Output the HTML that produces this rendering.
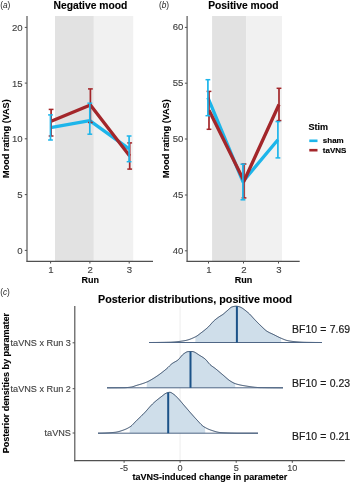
<!DOCTYPE html>
<html><head><meta charset="utf-8"><style>
html,body{margin:0;padding:0;background:#fff;}
svg{display:block;font-family:"Liberation Sans",sans-serif;will-change:transform;}
</style></head><body>
<svg width="350" height="483" viewBox="0 0 350 483">
<rect width="350" height="483" fill="#fff"/>
<rect x="55" y="16" width="38.8" height="245.3" fill="#e2e2e2"/>
<rect x="93.8" y="16" width="39.4" height="245.3" fill="#f1f1f1"/>
<path d="M50.5 127.6 L89.8 120.6 L129.1 148.8" fill="none" stroke="#1db5ea" stroke-width="3.3" stroke-linejoin="round"/>
<path d="M51.1 121.3 L90.4 105 L129.7 156" fill="none" stroke="#a3262a" stroke-width="3.3" stroke-linejoin="round"/>
<line x1="51.1" y1="109.4" x2="51.1" y2="136" stroke="#a3262a" stroke-width="1.7"/>
<line x1="48.7" y1="109.4" x2="53.5" y2="109.4" stroke="#a3262a" stroke-width="1.5"/>
<line x1="48.7" y1="136" x2="53.5" y2="136" stroke="#a3262a" stroke-width="1.5"/>
<line x1="90.4" y1="88.9" x2="90.4" y2="122.5" stroke="#a3262a" stroke-width="1.7"/>
<line x1="88" y1="88.9" x2="92.8" y2="88.9" stroke="#a3262a" stroke-width="1.5"/>
<line x1="88" y1="122.5" x2="92.8" y2="122.5" stroke="#a3262a" stroke-width="1.5"/>
<line x1="129.7" y1="142.9" x2="129.7" y2="169.1" stroke="#a3262a" stroke-width="1.7"/>
<line x1="127.3" y1="142.9" x2="132.1" y2="142.9" stroke="#a3262a" stroke-width="1.5"/>
<line x1="127.3" y1="169.1" x2="132.1" y2="169.1" stroke="#a3262a" stroke-width="1.5"/>
<line x1="50.5" y1="114.9" x2="50.5" y2="140" stroke="#1db5ea" stroke-width="1.7"/>
<line x1="48.1" y1="114.9" x2="52.9" y2="114.9" stroke="#1db5ea" stroke-width="1.5"/>
<line x1="48.1" y1="140" x2="52.9" y2="140" stroke="#1db5ea" stroke-width="1.5"/>
<line x1="89.8" y1="103.2" x2="89.8" y2="134.2" stroke="#1db5ea" stroke-width="1.7"/>
<line x1="87.4" y1="103.2" x2="92.2" y2="103.2" stroke="#1db5ea" stroke-width="1.5"/>
<line x1="87.4" y1="134.2" x2="92.2" y2="134.2" stroke="#1db5ea" stroke-width="1.5"/>
<line x1="129.1" y1="136" x2="129.1" y2="161.7" stroke="#1db5ea" stroke-width="1.7"/>
<line x1="126.7" y1="136" x2="131.5" y2="136" stroke="#1db5ea" stroke-width="1.5"/>
<line x1="126.7" y1="161.7" x2="131.5" y2="161.7" stroke="#1db5ea" stroke-width="1.5"/>
<line x1="27" y1="16" x2="27" y2="261.85" stroke="#505050" stroke-width="1.15"/>
<line x1="26.45" y1="261.3" x2="153" y2="261.3" stroke="#505050" stroke-width="1.15"/>
<line x1="24.8" y1="27.4" x2="27" y2="27.4" stroke="#505050" stroke-width="1.0"/>
<text x="22.6" y="30.8" font-size="9.6" font-weight="normal" text-anchor="end" fill="#404040" font-style="normal" stroke="#404040" stroke-width="0.12">20</text>
<line x1="24.8" y1="83.1" x2="27" y2="83.1" stroke="#505050" stroke-width="1.0"/>
<text x="22.6" y="86.5" font-size="9.6" font-weight="normal" text-anchor="end" fill="#404040" font-style="normal" stroke="#404040" stroke-width="0.12">15</text>
<line x1="24.8" y1="138.8" x2="27" y2="138.8" stroke="#505050" stroke-width="1.0"/>
<text x="22.6" y="142.2" font-size="9.6" font-weight="normal" text-anchor="end" fill="#404040" font-style="normal" stroke="#404040" stroke-width="0.12">10</text>
<line x1="24.8" y1="194.6" x2="27" y2="194.6" stroke="#505050" stroke-width="1.0"/>
<text x="22.6" y="198" font-size="9.6" font-weight="normal" text-anchor="end" fill="#404040" font-style="normal" stroke="#404040" stroke-width="0.12">5</text>
<line x1="24.8" y1="250.4" x2="27" y2="250.4" stroke="#505050" stroke-width="1.0"/>
<text x="22.6" y="253.8" font-size="9.6" font-weight="normal" text-anchor="end" fill="#404040" font-style="normal" stroke="#404040" stroke-width="0.12">0</text>
<line x1="50.6" y1="261.3" x2="50.6" y2="263.5" stroke="#505050" stroke-width="1.0"/>
<text x="50.9" y="272.9" font-size="9.6" font-weight="normal" text-anchor="middle" fill="#404040" font-style="normal" stroke="#404040" stroke-width="0.12">1</text>
<line x1="89.9" y1="261.3" x2="89.9" y2="263.5" stroke="#505050" stroke-width="1.0"/>
<text x="90.2" y="272.9" font-size="9.6" font-weight="normal" text-anchor="middle" fill="#404040" font-style="normal" stroke="#404040" stroke-width="0.12">2</text>
<line x1="129.2" y1="261.3" x2="129.2" y2="263.5" stroke="#505050" stroke-width="1.0"/>
<text x="129.5" y="272.9" font-size="9.6" font-weight="normal" text-anchor="middle" fill="#404040" font-style="normal" stroke="#404040" stroke-width="0.12">3</text>
<text x="90.2" y="283" font-size="9" font-weight="bold" text-anchor="middle" fill="#000" font-style="normal" stroke="#000" stroke-width="0.12">Run</text>
<text x="53.5" y="9" font-size="10.3" font-weight="bold" text-anchor="start" fill="#000" font-style="normal" stroke="#000" stroke-width="0.12">Negative mood</text>
<text x="9.1" y="138.6" font-size="9.1" font-weight="bold" text-anchor="middle" fill="#000" font-style="normal" transform="rotate(-90 9.1 138.6)" stroke="#000" stroke-width="0.12">Mood rating (VAS)</text>
<rect x="212.1" y="16" width="34.2" height="245.3" fill="#e2e2e2"/>
<rect x="246.3" y="16" width="35.7" height="245.3" fill="#f1f1f1"/>
<path d="M207.9 97.7 L242.9 181.6 L277.9 139.7" fill="none" stroke="#1db5ea" stroke-width="3.3" stroke-linejoin="round"/>
<path d="M209 110.3 L244 181 L279 104.5" fill="none" stroke="#a3262a" stroke-width="3.3" stroke-linejoin="round"/>
<line x1="209" y1="91.4" x2="209" y2="129.3" stroke="#a3262a" stroke-width="1.7"/>
<line x1="206.6" y1="91.4" x2="211.4" y2="91.4" stroke="#a3262a" stroke-width="1.5"/>
<line x1="206.6" y1="129.3" x2="211.4" y2="129.3" stroke="#a3262a" stroke-width="1.5"/>
<line x1="244" y1="164" x2="244" y2="197.9" stroke="#a3262a" stroke-width="1.7"/>
<line x1="241.6" y1="164" x2="246.4" y2="164" stroke="#a3262a" stroke-width="1.5"/>
<line x1="241.6" y1="197.9" x2="246.4" y2="197.9" stroke="#a3262a" stroke-width="1.5"/>
<line x1="279" y1="88.3" x2="279" y2="120.6" stroke="#a3262a" stroke-width="1.7"/>
<line x1="276.6" y1="88.3" x2="281.4" y2="88.3" stroke="#a3262a" stroke-width="1.5"/>
<line x1="276.6" y1="120.6" x2="281.4" y2="120.6" stroke="#a3262a" stroke-width="1.5"/>
<line x1="207.9" y1="79.7" x2="207.9" y2="115.7" stroke="#1db5ea" stroke-width="1.7"/>
<line x1="205.5" y1="79.7" x2="210.3" y2="79.7" stroke="#1db5ea" stroke-width="1.5"/>
<line x1="205.5" y1="115.7" x2="210.3" y2="115.7" stroke="#1db5ea" stroke-width="1.5"/>
<line x1="242.9" y1="164.2" x2="242.9" y2="199.8" stroke="#1db5ea" stroke-width="1.7"/>
<line x1="240.5" y1="164.2" x2="245.3" y2="164.2" stroke="#1db5ea" stroke-width="1.5"/>
<line x1="240.5" y1="199.8" x2="245.3" y2="199.8" stroke="#1db5ea" stroke-width="1.5"/>
<line x1="277.9" y1="121.6" x2="277.9" y2="157.9" stroke="#1db5ea" stroke-width="1.7"/>
<line x1="275.5" y1="121.6" x2="280.3" y2="121.6" stroke="#1db5ea" stroke-width="1.5"/>
<line x1="275.5" y1="157.9" x2="280.3" y2="157.9" stroke="#1db5ea" stroke-width="1.5"/>
<line x1="187.1" y1="16" x2="187.1" y2="261.85" stroke="#505050" stroke-width="1.15"/>
<line x1="186.55" y1="261.3" x2="299.7" y2="261.3" stroke="#505050" stroke-width="1.15"/>
<line x1="184.9" y1="27.4" x2="187.1" y2="27.4" stroke="#505050" stroke-width="1.0"/>
<text x="183.3" y="30.4" font-size="9.6" font-weight="normal" text-anchor="end" fill="#404040" font-style="normal" stroke="#404040" stroke-width="0.12">60</text>
<line x1="184.9" y1="83.2" x2="187.1" y2="83.2" stroke="#505050" stroke-width="1.0"/>
<text x="183.3" y="86.2" font-size="9.6" font-weight="normal" text-anchor="end" fill="#404040" font-style="normal" stroke="#404040" stroke-width="0.12">55</text>
<line x1="184.9" y1="139" x2="187.1" y2="139" stroke="#505050" stroke-width="1.0"/>
<text x="183.3" y="142" font-size="9.6" font-weight="normal" text-anchor="end" fill="#404040" font-style="normal" stroke="#404040" stroke-width="0.12">50</text>
<line x1="184.9" y1="195" x2="187.1" y2="195" stroke="#505050" stroke-width="1.0"/>
<text x="183.3" y="198" font-size="9.6" font-weight="normal" text-anchor="end" fill="#404040" font-style="normal" stroke="#404040" stroke-width="0.12">45</text>
<line x1="184.9" y1="250.8" x2="187.1" y2="250.8" stroke="#505050" stroke-width="1.0"/>
<text x="183.3" y="253.8" font-size="9.6" font-weight="normal" text-anchor="end" fill="#404040" font-style="normal" stroke="#404040" stroke-width="0.12">40</text>
<line x1="208.5" y1="261.3" x2="208.5" y2="263.5" stroke="#505050" stroke-width="1.0"/>
<text x="208.8" y="272.9" font-size="9.6" font-weight="normal" text-anchor="middle" fill="#404040" font-style="normal" stroke="#404040" stroke-width="0.12">1</text>
<line x1="243.5" y1="261.3" x2="243.5" y2="263.5" stroke="#505050" stroke-width="1.0"/>
<text x="243.8" y="272.9" font-size="9.6" font-weight="normal" text-anchor="middle" fill="#404040" font-style="normal" stroke="#404040" stroke-width="0.12">2</text>
<line x1="278.5" y1="261.3" x2="278.5" y2="263.5" stroke="#505050" stroke-width="1.0"/>
<text x="278.8" y="272.9" font-size="9.6" font-weight="normal" text-anchor="middle" fill="#404040" font-style="normal" stroke="#404040" stroke-width="0.12">3</text>
<text x="243.5" y="283" font-size="9" font-weight="bold" text-anchor="middle" fill="#000" font-style="normal" stroke="#000" stroke-width="0.12">Run</text>
<text x="208.2" y="9" font-size="10.3" font-weight="bold" text-anchor="start" fill="#000" font-style="normal" stroke="#000" stroke-width="0.12">Positive mood</text>
<text x="169" y="138.6" font-size="9.1" font-weight="bold" text-anchor="middle" fill="#000" font-style="normal" transform="rotate(-90 169 138.6)" stroke="#000" stroke-width="0.12">Mood rating (VAS)</text>
<text x="0.2" y="7.6" font-size="8.3" font-weight="normal" text-anchor="start" fill="#222" font-style="normal">(<tspan font-style="italic">a</tspan>)</text>
<text x="158.9" y="7.6" font-size="8.3" font-weight="normal" text-anchor="start" fill="#222" font-style="normal">(<tspan font-style="italic">b</tspan>)</text>
<text x="0.2" y="295.3" font-size="8.3" font-weight="normal" text-anchor="start" fill="#222" font-style="normal">(<tspan font-style="italic">c</tspan>)</text>
<text x="308.6" y="130.3" font-size="9" font-weight="bold" text-anchor="start" fill="#000" font-style="normal" stroke="#000" stroke-width="0.12">Stim</text>
<rect x="309.3" y="139.5" width="8.2" height="2.6" fill="#1db5ea"/>
<rect x="309.3" y="148.9" width="8.2" height="2.6" fill="#a3262a"/>
<text x="322.8" y="143" font-size="8.0" font-weight="bold" text-anchor="start" fill="#000" font-style="normal" stroke="#000" stroke-width="0.12">sham</text>
<text x="322.8" y="152.8" font-size="8.0" font-weight="bold" text-anchor="start" fill="#000" font-style="normal" stroke="#000" stroke-width="0.12">taVNS</text>
<line x1="180.1" y1="306" x2="180.1" y2="460.6" stroke="#ebebeb" stroke-width="0.9"/>
<path d="M195.3 342.5 L195.5 336.8 L196 336.53 L196.5 336.23 L197 335.91 L197.5 335.57 L198 335.21 L198.5 334.84 L199 334.46 L199.5 334.07 L200 333.68 L200.5 333.29 L201 332.9 L201.5 332.52 L202 332.15 L202.5 331.77 L203 331.38 L203.5 330.99 L204 330.6 L204.5 330.21 L205 329.8 L205.5 329.39 L206 328.98 L206.5 328.55 L207 328.11 L207.5 327.67 L208 327.21 L208.5 326.72 L209 326.21 L209.5 325.67 L210 325.12 L210.5 324.55 L211 323.98 L211.5 323.41 L212 322.85 L212.5 322.3 L213 321.76 L213.5 321.25 L214 320.77 L214.5 320.32 L215 319.9 L215.5 319.48 L216 319.08 L216.5 318.69 L217 318.31 L217.5 317.94 L218 317.58 L218.5 317.22 L219 316.87 L219.5 316.53 L220 316.21 L220.5 315.91 L221 315.61 L221.5 315.31 L222 315 L222.5 314.67 L223 314.3 L223.5 313.91 L224 313.49 L224.5 313.06 L225 312.62 L225.5 312.17 L226 311.73 L226.5 311.3 L227 310.88 L227.5 310.47 L228 310.02 L228.5 309.55 L229 309.08 L229.5 308.62 L230 308.18 L230.5 307.77 L231 307.41 L231.5 307.12 L232 306.89 L232.5 306.75 L233 306.63 L233.5 306.52 L234 306.42 L234.5 306.33 L235 306.26 L235.5 306.22 L236 306.2 L236.5 306.21 L237 306.26 L237.5 306.34 L238 306.43 L238.5 306.53 L239 306.65 L239.5 306.79 L240 306.97 L240.5 307.18 L241 307.42 L241.5 307.68 L242 307.98 L242.5 308.3 L243 308.63 L243.5 308.99 L244 309.36 L244.5 309.74 L245 310.14 L245.5 310.54 L246 310.95 L246.5 311.37 L247 311.78 L247.5 312.19 L248 312.6 L248.5 313.02 L249 313.48 L249.5 313.96 L250 314.46 L250.5 314.99 L251 315.52 L251.5 316.07 L252 316.63 L252.5 317.19 L253 317.75 L253.5 318.31 L254 318.85 L254.5 319.39 L255 319.9 L255.5 320.41 L256 320.93 L256.5 321.44 L257 321.95 L257.5 322.46 L258 322.97 L258.5 323.47 L259 323.98 L259.5 324.47 L260 324.97 L260.5 325.46 L261 325.94 L261.5 326.41 L262 326.88 L262.5 327.36 L263 327.85 L263.5 328.33 L264 328.81 L264.5 329.27 L265 329.72 L265.5 330.15 L266 330.56 L266.5 330.93 L267 331.26 L267.5 331.57 L268 331.86 L268.5 332.14 L269 332.4 L269.5 332.65 L270 332.89 L270.5 333.12 L271 333.35 L271.5 333.57 L272 333.8 L272.5 334.03 L273 334.26 L273.5 334.5 L274 334.75 L274.5 335 L275 335.26 L275.5 335.51 L276 335.77 L276.5 336.03 L277 336.28 L277.5 336.54 L278 336.79 L278.5 337.03 L279 337.27 L279.5 337.51 L280 337.74 L280.5 337.96 L281 338.17 L281.3 342.5 Z" fill="#cfdeea" stroke="none"/>
<path d="M149 342.5 L149.5 342.5 L150 342.5 L150.5 342.5 L151 342.5 L151.5 342.5 L152 342.49 L152.5 342.49 L153 342.49 L153.5 342.48 L154 342.48 L154.5 342.48 L155 342.47 L155.5 342.47 L156 342.46 L156.5 342.46 L157 342.45 L157.5 342.45 L158 342.44 L158.5 342.43 L159 342.43 L159.5 342.42 L160 342.41 L160.5 342.4 L161 342.4 L161.5 342.39 L162 342.38 L162.5 342.37 L163 342.36 L163.5 342.35 L164 342.34 L164.5 342.33 L165 342.32 L165.5 342.31 L166 342.3 L166.5 342.29 L167 342.27 L167.5 342.26 L168 342.25 L168.5 342.24 L169 342.23 L169.5 342.21 L170 342.2 L170.5 342.19 L171 342.17 L171.5 342.15 L172 342.12 L172.5 342.09 L173 342.06 L173.5 342.03 L174 342 L174.5 341.96 L175 341.92 L175.5 341.87 L176 341.83 L176.5 341.78 L177 341.72 L177.5 341.67 L178 341.61 L178.5 341.55 L179 341.49 L179.5 341.43 L180 341.36 L180.5 341.3 L181 341.23 L181.5 341.15 L182 341.08 L182.5 341 L183 340.93 L183.5 340.85 L184 340.77 L184.5 340.68 L185 340.6 L185.5 340.51 L186 340.41 L186.5 340.29 L187 340.17 L187.5 340.03 L188 339.89 L188.5 339.73 L189 339.57 L189.5 339.4 L190 339.22 L190.5 339.03 L191 338.83 L191.5 338.63 L192 338.42 L192.5 338.2 L193 337.98 L193.5 337.76 L194 337.52 L194.5 337.29 L195 337.05 L195.5 336.8 L196 336.53 L196.5 336.23 L197 335.91 L197.5 335.57 L198 335.21 L198.5 334.84 L199 334.46 L199.5 334.07 L200 333.68 L200.5 333.29 L201 332.9 L201.5 332.52 L202 332.15 L202.5 331.77 L203 331.38 L203.5 330.99 L204 330.6 L204.5 330.21 L205 329.8 L205.5 329.39 L206 328.98 L206.5 328.55 L207 328.11 L207.5 327.67 L208 327.21 L208.5 326.72 L209 326.21 L209.5 325.67 L210 325.12 L210.5 324.55 L211 323.98 L211.5 323.41 L212 322.85 L212.5 322.3 L213 321.76 L213.5 321.25 L214 320.77 L214.5 320.32 L215 319.9 L215.5 319.48 L216 319.08 L216.5 318.69 L217 318.31 L217.5 317.94 L218 317.58 L218.5 317.22 L219 316.87 L219.5 316.53 L220 316.21 L220.5 315.91 L221 315.61 L221.5 315.31 L222 315 L222.5 314.67 L223 314.3 L223.5 313.91 L224 313.49 L224.5 313.06 L225 312.62 L225.5 312.17 L226 311.73 L226.5 311.3 L227 310.88 L227.5 310.47 L228 310.02 L228.5 309.55 L229 309.08 L229.5 308.62 L230 308.18 L230.5 307.77 L231 307.41 L231.5 307.12 L232 306.89 L232.5 306.75 L233 306.63 L233.5 306.52 L234 306.42 L234.5 306.33 L235 306.26 L235.5 306.22 L236 306.2 L236.5 306.21 L237 306.26 L237.5 306.34 L238 306.43 L238.5 306.53 L239 306.65 L239.5 306.79 L240 306.97 L240.5 307.18 L241 307.42 L241.5 307.68 L242 307.98 L242.5 308.3 L243 308.63 L243.5 308.99 L244 309.36 L244.5 309.74 L245 310.14 L245.5 310.54 L246 310.95 L246.5 311.37 L247 311.78 L247.5 312.19 L248 312.6 L248.5 313.02 L249 313.48 L249.5 313.96 L250 314.46 L250.5 314.99 L251 315.52 L251.5 316.07 L252 316.63 L252.5 317.19 L253 317.75 L253.5 318.31 L254 318.85 L254.5 319.39 L255 319.9 L255.5 320.41 L256 320.93 L256.5 321.44 L257 321.95 L257.5 322.46 L258 322.97 L258.5 323.47 L259 323.98 L259.5 324.47 L260 324.97 L260.5 325.46 L261 325.94 L261.5 326.41 L262 326.88 L262.5 327.36 L263 327.85 L263.5 328.33 L264 328.81 L264.5 329.27 L265 329.72 L265.5 330.15 L266 330.56 L266.5 330.93 L267 331.26 L267.5 331.57 L268 331.86 L268.5 332.14 L269 332.4 L269.5 332.65 L270 332.89 L270.5 333.12 L271 333.35 L271.5 333.57 L272 333.8 L272.5 334.03 L273 334.26 L273.5 334.5 L274 334.75 L274.5 335 L275 335.26 L275.5 335.51 L276 335.77 L276.5 336.03 L277 336.28 L277.5 336.54 L278 336.79 L278.5 337.03 L279 337.27 L279.5 337.51 L280 337.74 L280.5 337.96 L281 338.17 L281.5 338.39 L282 338.61 L282.5 338.83 L283 339.05 L283.5 339.26 L284 339.47 L284.5 339.67 L285 339.86 L285.5 340.03 L286 340.2 L286.5 340.35 L287 340.48 L287.5 340.6 L288 340.7 L288.5 340.8 L289 340.89 L289.5 340.98 L290 341.06 L290.5 341.14 L291 341.21 L291.5 341.28 L292 341.35 L292.5 341.41 L293 341.47 L293.5 341.52 L294 341.57 L294.5 341.62 L295 341.66 L295.5 341.71 L296 341.75 L296.5 341.8 L297 341.84 L297.5 341.88 L298 341.92 L298.5 341.96 L299 342 L299.5 342.04 L300 342.07 L300.5 342.1 L301 342.13 L301.5 342.16 L302 342.19 L302.5 342.21 L303 342.24 L303.5 342.26 L304 342.27 L304.5 342.29 L305 342.3 L305.5 342.31 L306 342.32 L306.5 342.33 L307 342.34 L307.5 342.35 L308 342.36 L308.5 342.37 L309 342.38 L309.5 342.39 L310 342.39 L310.5 342.4 L311 342.41 L311.5 342.42 L312 342.42 L312.5 342.43 L313 342.44 L313.5 342.44 L314 342.45 L314.5 342.46 L315 342.46 L315.5 342.47 L316 342.47 L316.5 342.48 L317 342.48 L317.5 342.48 L318 342.49 L318.5 342.49 L319 342.49 L319.5 342.49 L320 342.5 L320.5 342.5 L321 342.5 L321.5 342.5 L322 342.5" fill="none" stroke="#273f5e" stroke-width="1" stroke-linejoin="round"/>
<line x1="149" y1="342.5" x2="322" y2="342.5" stroke="#4f6685" stroke-width="1"/>
<line x1="236.9" y1="342.5" x2="236.9" y2="306.25" stroke="#1b5288" stroke-width="2.0"/>
<path d="M146.6 387.8 L147 381.94 L147.5 381.71 L148 381.48 L148.5 381.23 L149 380.97 L149.5 380.7 L150 380.43 L150.5 380.15 L151 379.86 L151.5 379.57 L152 379.27 L152.5 378.96 L153 378.66 L153.5 378.35 L154 378.03 L154.5 377.72 L155 377.4 L155.5 377.08 L156 376.75 L156.5 376.42 L157 376.09 L157.5 375.75 L158 375.4 L158.5 375.05 L159 374.69 L159.5 374.33 L160 373.96 L160.5 373.59 L161 373.21 L161.5 372.83 L162 372.45 L162.5 372.06 L163 371.67 L163.5 371.27 L164 370.87 L164.5 370.47 L165 370.06 L165.5 369.65 L166 369.23 L166.5 368.82 L167 368.38 L167.5 367.91 L168 367.43 L168.5 366.93 L169 366.43 L169.5 365.93 L170 365.44 L170.5 364.96 L171 364.51 L171.5 364.07 L172 363.68 L172.5 363.31 L173 362.98 L173.5 362.67 L174 362.38 L174.5 362.1 L175 361.83 L175.5 361.55 L176 361.27 L176.5 360.97 L177 360.65 L177.5 360.3 L178 359.92 L178.5 359.47 L179 358.96 L179.5 358.4 L180 357.8 L180.5 357.19 L181 356.57 L181.5 355.96 L182 355.38 L182.5 354.85 L183 354.37 L183.5 353.97 L184 353.62 L184.5 353.27 L185 352.93 L185.5 352.61 L186 352.31 L186.5 352.05 L187 351.84 L187.5 351.69 L188 351.61 L188.5 351.58 L189 351.56 L189.5 351.54 L190 351.53 L190.5 351.52 L191 351.51 L191.5 351.5 L192 351.5 L192.5 351.53 L193 351.61 L193.5 351.74 L194 351.92 L194.5 352.14 L195 352.39 L195.5 352.66 L196 352.96 L196.5 353.28 L197 353.62 L197.5 353.96 L198 354.3 L198.5 354.64 L199 354.98 L199.5 355.3 L200 355.6 L200.5 355.89 L201 356.19 L201.5 356.49 L202 356.79 L202.5 357.11 L203 357.44 L203.5 357.78 L204 358.14 L204.5 358.52 L205 358.92 L205.5 359.36 L206 359.86 L206.5 360.41 L207 361 L207.5 361.61 L208 362.23 L208.5 362.85 L209 363.44 L209.5 364.01 L210 364.52 L210.5 364.98 L211 365.4 L211.5 365.79 L212 366.16 L212.5 366.52 L213 366.87 L213.5 367.22 L214 367.57 L214.5 367.92 L215 368.29 L215.5 368.68 L216 369.08 L216.5 369.49 L217 369.9 L217.5 370.32 L218 370.74 L218.5 371.17 L219 371.59 L219.5 372.02 L220 372.45 L220.5 372.88 L221 373.31 L221.5 373.73 L222 374.15 L222.5 374.57 L223 374.99 L223.5 375.42 L224 375.86 L224.5 376.3 L225 376.74 L225.5 377.18 L226 377.62 L226.5 378.06 L227 378.49 L227.5 378.91 L228 379.32 L228.5 379.72 L229 380.11 L229.5 380.47 L230 380.82 L230.5 381.15 L231 381.46 L231.5 381.76 L232 382.05 L232.5 382.33 L233 382.6 L233.5 382.86 L234 383.1 L234.5 383.33 L235 383.54 L235.3 387.8 Z" fill="#cfdeea" stroke="none"/>
<path d="M107 387.8 L107.5 387.8 L108 387.8 L108.5 387.8 L109 387.8 L109.5 387.8 L110 387.8 L110.5 387.8 L111 387.8 L111.5 387.79 L112 387.79 L112.5 387.79 L113 387.79 L113.5 387.79 L114 387.78 L114.5 387.78 L115 387.78 L115.5 387.78 L116 387.77 L116.5 387.77 L117 387.77 L117.5 387.76 L118 387.76 L118.5 387.76 L119 387.75 L119.5 387.75 L120 387.74 L120.5 387.74 L121 387.73 L121.5 387.73 L122 387.72 L122.5 387.72 L123 387.71 L123.5 387.71 L124 387.7 L124.5 387.69 L125 387.67 L125.5 387.65 L126 387.62 L126.5 387.59 L127 387.55 L127.5 387.51 L128 387.46 L128.5 387.41 L129 387.35 L129.5 387.3 L130 387.23 L130.5 387.17 L131 387.1 L131.5 387.02 L132 386.91 L132.5 386.77 L133 386.62 L133.5 386.46 L134 386.29 L134.5 386.11 L135 385.93 L135.5 385.76 L136 385.6 L136.5 385.45 L137 385.29 L137.5 385.14 L138 384.99 L138.5 384.85 L139 384.7 L139.5 384.55 L140 384.4 L140.5 384.25 L141 384.1 L141.5 383.94 L142 383.79 L142.5 383.62 L143 383.46 L143.5 383.29 L144 383.12 L144.5 382.94 L145 382.75 L145.5 382.56 L146 382.36 L146.5 382.16 L147 381.94 L147.5 381.71 L148 381.48 L148.5 381.23 L149 380.97 L149.5 380.7 L150 380.43 L150.5 380.15 L151 379.86 L151.5 379.57 L152 379.27 L152.5 378.96 L153 378.66 L153.5 378.35 L154 378.03 L154.5 377.72 L155 377.4 L155.5 377.08 L156 376.75 L156.5 376.42 L157 376.09 L157.5 375.75 L158 375.4 L158.5 375.05 L159 374.69 L159.5 374.33 L160 373.96 L160.5 373.59 L161 373.21 L161.5 372.83 L162 372.45 L162.5 372.06 L163 371.67 L163.5 371.27 L164 370.87 L164.5 370.47 L165 370.06 L165.5 369.65 L166 369.23 L166.5 368.82 L167 368.38 L167.5 367.91 L168 367.43 L168.5 366.93 L169 366.43 L169.5 365.93 L170 365.44 L170.5 364.96 L171 364.51 L171.5 364.07 L172 363.68 L172.5 363.31 L173 362.98 L173.5 362.67 L174 362.38 L174.5 362.1 L175 361.83 L175.5 361.55 L176 361.27 L176.5 360.97 L177 360.65 L177.5 360.3 L178 359.92 L178.5 359.47 L179 358.96 L179.5 358.4 L180 357.8 L180.5 357.19 L181 356.57 L181.5 355.96 L182 355.38 L182.5 354.85 L183 354.37 L183.5 353.97 L184 353.62 L184.5 353.27 L185 352.93 L185.5 352.61 L186 352.31 L186.5 352.05 L187 351.84 L187.5 351.69 L188 351.61 L188.5 351.58 L189 351.56 L189.5 351.54 L190 351.53 L190.5 351.52 L191 351.51 L191.5 351.5 L192 351.5 L192.5 351.53 L193 351.61 L193.5 351.74 L194 351.92 L194.5 352.14 L195 352.39 L195.5 352.66 L196 352.96 L196.5 353.28 L197 353.62 L197.5 353.96 L198 354.3 L198.5 354.64 L199 354.98 L199.5 355.3 L200 355.6 L200.5 355.89 L201 356.19 L201.5 356.49 L202 356.79 L202.5 357.11 L203 357.44 L203.5 357.78 L204 358.14 L204.5 358.52 L205 358.92 L205.5 359.36 L206 359.86 L206.5 360.41 L207 361 L207.5 361.61 L208 362.23 L208.5 362.85 L209 363.44 L209.5 364.01 L210 364.52 L210.5 364.98 L211 365.4 L211.5 365.79 L212 366.16 L212.5 366.52 L213 366.87 L213.5 367.22 L214 367.57 L214.5 367.92 L215 368.29 L215.5 368.68 L216 369.08 L216.5 369.49 L217 369.9 L217.5 370.32 L218 370.74 L218.5 371.17 L219 371.59 L219.5 372.02 L220 372.45 L220.5 372.88 L221 373.31 L221.5 373.73 L222 374.15 L222.5 374.57 L223 374.99 L223.5 375.42 L224 375.86 L224.5 376.3 L225 376.74 L225.5 377.18 L226 377.62 L226.5 378.06 L227 378.49 L227.5 378.91 L228 379.32 L228.5 379.72 L229 380.11 L229.5 380.47 L230 380.82 L230.5 381.15 L231 381.46 L231.5 381.76 L232 382.05 L232.5 382.33 L233 382.6 L233.5 382.86 L234 383.1 L234.5 383.33 L235 383.54 L235.5 383.73 L236 383.9 L236.5 384.05 L237 384.2 L237.5 384.34 L238 384.48 L238.5 384.6 L239 384.73 L239.5 384.84 L240 384.95 L240.5 385.06 L241 385.16 L241.5 385.26 L242 385.36 L242.5 385.45 L243 385.54 L243.5 385.62 L244 385.7 L244.5 385.78 L245 385.86 L245.5 385.94 L246 386.02 L246.5 386.1 L247 386.18 L247.5 386.26 L248 386.34 L248.5 386.42 L249 386.49 L249.5 386.57 L250 386.65 L250.5 386.72 L251 386.79 L251.5 386.86 L252 386.93 L252.5 387 L253 387.06 L253.5 387.12 L254 387.18 L254.5 387.24 L255 387.29 L255.5 387.34 L256 387.38 L256.5 387.42 L257 387.46 L257.5 387.5 L258 387.53 L258.5 387.55 L259 387.57 L259.5 387.59 L260 387.6 L260.5 387.61 L261 387.62 L261.5 387.62 L262 387.63 L262.5 387.64 L263 387.65 L263.5 387.66 L264 387.66 L264.5 387.67 L265 387.68 L265.5 387.68 L266 387.69 L266.5 387.7 L267 387.7 L267.5 387.71 L268 387.71 L268.5 387.72 L269 387.73 L269.5 387.73 L270 387.74 L270.5 387.74 L271 387.74 L271.5 387.75 L272 387.75 L272.5 387.76 L273 387.76 L273.5 387.77 L274 387.77 L274.5 387.77 L275 387.78 L275.5 387.78 L276 387.78 L276.5 387.78 L277 387.79 L277.5 387.79 L278 387.79 L278.5 387.79 L279 387.79 L279.5 387.8 L280 387.8 L280.5 387.8 L281 387.8 L281.5 387.8 L282 387.8 L282.5 387.8 L283 387.8" fill="none" stroke="#273f5e" stroke-width="1" stroke-linejoin="round"/>
<line x1="107" y1="387.8" x2="283" y2="387.8" stroke="#4f6685" stroke-width="1"/>
<line x1="190.5" y1="387.8" x2="190.5" y2="351.52" stroke="#1b5288" stroke-width="2.0"/>
<path d="M129.6 433.2 L130 426.86 L130.5 426.53 L131 426.16 L131.5 425.73 L132 425.27 L132.5 424.78 L133 424.26 L133.5 423.72 L134 423.18 L134.5 422.64 L135 422.11 L135.5 421.6 L136 421.11 L136.5 420.62 L137 420.14 L137.5 419.66 L138 419.18 L138.5 418.7 L139 418.22 L139.5 417.74 L140 417.26 L140.5 416.77 L141 416.29 L141.5 415.8 L142 415.31 L142.5 414.82 L143 414.32 L143.5 413.82 L144 413.31 L144.5 412.79 L145 412.26 L145.5 411.72 L146 411.17 L146.5 410.61 L147 410.04 L147.5 409.46 L148 408.89 L148.5 408.32 L149 407.74 L149.5 407.17 L150 406.61 L150.5 406.06 L151 405.52 L151.5 404.99 L152 404.48 L152.5 403.98 L153 403.51 L153.5 403.04 L154 402.59 L154.5 402.14 L155 401.7 L155.5 401.27 L156 400.85 L156.5 400.43 L157 400.02 L157.5 399.61 L158 399.21 L158.5 398.82 L159 398.43 L159.5 398.04 L160 397.66 L160.5 397.28 L161 396.9 L161.5 396.52 L162 396.14 L162.5 395.73 L163 395.32 L163.5 394.92 L164 394.52 L164.5 394.15 L165 393.8 L165.5 393.5 L166 393.24 L166.5 393.03 L167 392.87 L167.5 392.72 L168 392.57 L168.5 392.45 L169 392.36 L169.5 392.31 L170 392.31 L170.5 392.4 L171 392.57 L171.5 392.81 L172 393.11 L172.5 393.44 L173 393.79 L173.5 394.15 L174 394.5 L174.5 394.87 L175 395.28 L175.5 395.73 L176 396.22 L176.5 396.73 L177 397.25 L177.5 397.78 L178 398.3 L178.5 398.83 L179 399.38 L179.5 399.94 L180 400.52 L180.5 401.1 L181 401.7 L181.5 402.29 L182 402.89 L182.5 403.48 L183 404.07 L183.5 404.65 L184 405.23 L184.5 405.81 L185 406.4 L185.5 406.98 L186 407.56 L186.5 408.15 L187 408.73 L187.5 409.32 L188 409.9 L188.5 410.48 L189 411.05 L189.5 411.63 L190 412.2 L190.5 412.77 L191 413.34 L191.5 413.91 L192 414.48 L192.5 415.05 L193 415.62 L193.5 416.19 L194 416.75 L194.5 417.3 L195 417.86 L195.5 418.4 L196 418.95 L196.5 419.48 L197 420 L197.5 420.54 L198 421.08 L198.5 421.63 L199 422.18 L199.5 422.72 L200 423.26 L200.5 423.79 L201 424.3 L201.5 424.79 L202 425.26 L202.5 425.7 L203 426.1 L203.5 426.47 L204 426.79 L204.5 427.11 L205 427.41 L205.3 433.2 Z" fill="#cfdeea" stroke="none"/>
<path d="M98 433.2 L98.5 433.2 L99 433.2 L99.5 433.19 L100 433.19 L100.5 433.18 L101 433.17 L101.5 433.16 L102 433.14 L102.5 433.13 L103 433.11 L103.5 433.09 L104 433.07 L104.5 433.05 L105 433.03 L105.5 433.01 L106 432.98 L106.5 432.95 L107 432.92 L107.5 432.89 L108 432.86 L108.5 432.83 L109 432.8 L109.5 432.76 L110 432.73 L110.5 432.69 L111 432.65 L111.5 432.61 L112 432.57 L112.5 432.53 L113 432.48 L113.5 432.44 L114 432.39 L114.5 432.35 L115 432.3 L115.5 432.24 L116 432.18 L116.5 432.09 L117 432 L117.5 431.89 L118 431.77 L118.5 431.65 L119 431.51 L119.5 431.37 L120 431.22 L120.5 431.06 L121 430.9 L121.5 430.73 L122 430.56 L122.5 430.39 L123 430.21 L123.5 430.04 L124 429.86 L124.5 429.67 L125 429.47 L125.5 429.26 L126 429.04 L126.5 428.81 L127 428.57 L127.5 428.32 L128 428.05 L128.5 427.78 L129 427.49 L129.5 427.18 L130 426.86 L130.5 426.53 L131 426.16 L131.5 425.73 L132 425.27 L132.5 424.78 L133 424.26 L133.5 423.72 L134 423.18 L134.5 422.64 L135 422.11 L135.5 421.6 L136 421.11 L136.5 420.62 L137 420.14 L137.5 419.66 L138 419.18 L138.5 418.7 L139 418.22 L139.5 417.74 L140 417.26 L140.5 416.77 L141 416.29 L141.5 415.8 L142 415.31 L142.5 414.82 L143 414.32 L143.5 413.82 L144 413.31 L144.5 412.79 L145 412.26 L145.5 411.72 L146 411.17 L146.5 410.61 L147 410.04 L147.5 409.46 L148 408.89 L148.5 408.32 L149 407.74 L149.5 407.17 L150 406.61 L150.5 406.06 L151 405.52 L151.5 404.99 L152 404.48 L152.5 403.98 L153 403.51 L153.5 403.04 L154 402.59 L154.5 402.14 L155 401.7 L155.5 401.27 L156 400.85 L156.5 400.43 L157 400.02 L157.5 399.61 L158 399.21 L158.5 398.82 L159 398.43 L159.5 398.04 L160 397.66 L160.5 397.28 L161 396.9 L161.5 396.52 L162 396.14 L162.5 395.73 L163 395.32 L163.5 394.92 L164 394.52 L164.5 394.15 L165 393.8 L165.5 393.5 L166 393.24 L166.5 393.03 L167 392.87 L167.5 392.72 L168 392.57 L168.5 392.45 L169 392.36 L169.5 392.31 L170 392.31 L170.5 392.4 L171 392.57 L171.5 392.81 L172 393.11 L172.5 393.44 L173 393.79 L173.5 394.15 L174 394.5 L174.5 394.87 L175 395.28 L175.5 395.73 L176 396.22 L176.5 396.73 L177 397.25 L177.5 397.78 L178 398.3 L178.5 398.83 L179 399.38 L179.5 399.94 L180 400.52 L180.5 401.1 L181 401.7 L181.5 402.29 L182 402.89 L182.5 403.48 L183 404.07 L183.5 404.65 L184 405.23 L184.5 405.81 L185 406.4 L185.5 406.98 L186 407.56 L186.5 408.15 L187 408.73 L187.5 409.32 L188 409.9 L188.5 410.48 L189 411.05 L189.5 411.63 L190 412.2 L190.5 412.77 L191 413.34 L191.5 413.91 L192 414.48 L192.5 415.05 L193 415.62 L193.5 416.19 L194 416.75 L194.5 417.3 L195 417.86 L195.5 418.4 L196 418.95 L196.5 419.48 L197 420 L197.5 420.54 L198 421.08 L198.5 421.63 L199 422.18 L199.5 422.72 L200 423.26 L200.5 423.79 L201 424.3 L201.5 424.79 L202 425.26 L202.5 425.7 L203 426.1 L203.5 426.47 L204 426.79 L204.5 427.11 L205 427.41 L205.5 427.7 L206 427.98 L206.5 428.24 L207 428.5 L207.5 428.74 L208 428.97 L208.5 429.19 L209 429.4 L209.5 429.6 L210 429.79 L210.5 429.97 L211 430.14 L211.5 430.31 L212 430.48 L212.5 430.65 L213 430.81 L213.5 430.98 L214 431.14 L214.5 431.29 L215 431.45 L215.5 431.59 L216 431.73 L216.5 431.86 L217 431.99 L217.5 432.1 L218 432.21 L218.5 432.3 L219 432.39 L219.5 432.46 L220 432.52 L220.5 432.57 L221 432.61 L221.5 432.64 L222 432.66 L222.5 432.69 L223 432.72 L223.5 432.75 L224 432.77 L224.5 432.8 L225 432.82 L225.5 432.85 L226 432.87 L226.5 432.89 L227 432.92 L227.5 432.94 L228 432.96 L228.5 432.98 L229 432.99 L229.5 433.01 L230 433.03 L230.5 433.05 L231 433.06 L231.5 433.08 L232 433.09 L232.5 433.1 L233 433.12 L233.5 433.13 L234 433.14 L234.5 433.15 L235 433.16 L235.5 433.16 L236 433.17 L236.5 433.18 L237 433.18 L237.5 433.19 L238 433.19 L238.5 433.2 L239 433.2 L239.5 433.2 L240 433.2 L240.5 433.2 L241 433.2 L241.5 433.2 L242 433.2 L242.5 433.2 L243 433.2 L243.5 433.2 L244 433.2 L244.5 433.2 L245 433.2 L245.5 433.2 L246 433.2 L246.5 433.2 L247 433.2 L247.5 433.2 L248 433.2 L248.5 433.2 L249 433.2 L249.5 433.2 L250 433.2 L250.5 433.2 L251 433.2 L251.5 433.2 L252 433.2 L252.5 433.2 L253 433.2 L253.5 433.2 L254 433.2 L254.5 433.2 L255 433.2 L255.5 433.2 L256 433.2 L256.5 433.2 L257 433.2 L257.5 433.2 L258 433.2" fill="none" stroke="#273f5e" stroke-width="1" stroke-linejoin="round"/>
<line x1="98" y1="433.2" x2="258" y2="433.2" stroke="#4f6685" stroke-width="1"/>
<line x1="168.2" y1="433.2" x2="168.2" y2="392.52" stroke="#1b5288" stroke-width="2.0"/>
<line x1="74.8" y1="306" x2="74.8" y2="461.15" stroke="#505050" stroke-width="1.15"/>
<line x1="74.25" y1="460.6" x2="344.9" y2="460.6" stroke="#505050" stroke-width="1.15"/>
<line x1="72.6" y1="342.8" x2="74.8" y2="342.8" stroke="#505050" stroke-width="1.0"/>
<text x="70.9" y="346.1" font-size="9.15" font-weight="normal" text-anchor="end" fill="#404040" font-style="normal" stroke="#404040" stroke-width="0.12">taVNS x Run 3</text>
<line x1="72.6" y1="388.7" x2="74.8" y2="388.7" stroke="#505050" stroke-width="1.0"/>
<text x="70.9" y="392" font-size="9.15" font-weight="normal" text-anchor="end" fill="#404040" font-style="normal" stroke="#404040" stroke-width="0.12">taVNS x Run 2</text>
<line x1="72.6" y1="433" x2="74.8" y2="433" stroke="#505050" stroke-width="1.0"/>
<text x="70.9" y="436.3" font-size="9.15" font-weight="normal" text-anchor="end" fill="#404040" font-style="normal" stroke="#404040" stroke-width="0.12">taVNS</text>
<line x1="124.1" y1="460.6" x2="124.1" y2="462.8" stroke="#505050" stroke-width="1.0"/>
<text x="124.1" y="471.2" font-size="9.15" font-weight="normal" text-anchor="middle" fill="#404040" font-style="normal" stroke="#404040" stroke-width="0.12">-5</text>
<line x1="180.1" y1="460.6" x2="180.1" y2="462.8" stroke="#505050" stroke-width="1.0"/>
<text x="180.1" y="471.2" font-size="9.15" font-weight="normal" text-anchor="middle" fill="#404040" font-style="normal" stroke="#404040" stroke-width="0.12">0</text>
<line x1="236.2" y1="460.6" x2="236.2" y2="462.8" stroke="#505050" stroke-width="1.0"/>
<text x="236.2" y="471.2" font-size="9.15" font-weight="normal" text-anchor="middle" fill="#404040" font-style="normal" stroke="#404040" stroke-width="0.12">5</text>
<line x1="292.3" y1="460.6" x2="292.3" y2="462.8" stroke="#505050" stroke-width="1.0"/>
<text x="292.3" y="471.2" font-size="9.15" font-weight="normal" text-anchor="middle" fill="#404040" font-style="normal" stroke="#404040" stroke-width="0.12">10</text>
<text x="98" y="302.9" font-size="10.75" font-weight="bold" text-anchor="start" fill="#000" font-style="normal" stroke="#000" stroke-width="0.12">Posterior distributions, positive mood</text>
<text x="132.5" y="480" font-size="9.02" font-weight="bold" text-anchor="start" fill="#000" font-style="normal" stroke="#000" stroke-width="0.12">taVNS-induced change in parameter</text>
<text x="8.7" y="383.1" font-size="9.02" font-weight="bold" text-anchor="middle" fill="#000" font-style="normal" transform="rotate(-90 8.7 383.1)" stroke="#000" stroke-width="0.12">Posterior densities by paramater</text>
<text x="292.1" y="333.4" font-size="10.45" fill="#1a1a1a" stroke="#1a1a1a" stroke-width="0.18" word-spacing="0.4">BF10 = 7.69</text>
<text x="292.1" y="387" font-size="10.45" fill="#1a1a1a" stroke="#1a1a1a" stroke-width="0.18" word-spacing="0.4">BF10 = 0.23</text>
<text x="292.1" y="439.8" font-size="10.45" fill="#1a1a1a" stroke="#1a1a1a" stroke-width="0.18" word-spacing="0.4">BF10 = 0.21</text>
</svg></body></html>
